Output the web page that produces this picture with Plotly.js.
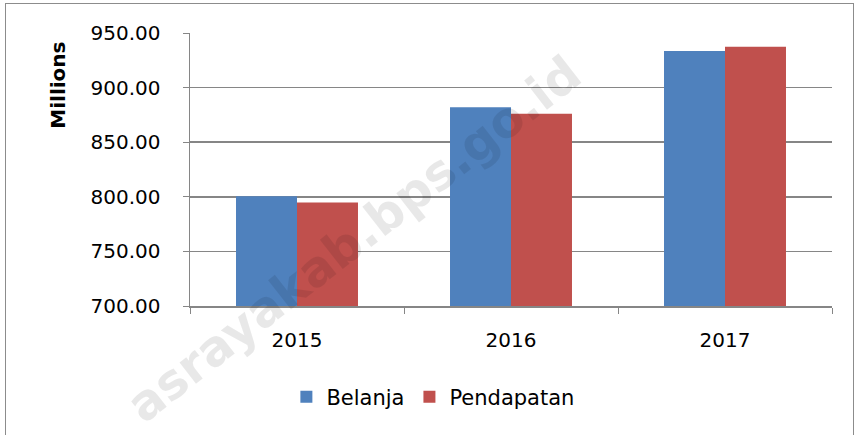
<!DOCTYPE html>
<html>
<head>
<meta charset="utf-8">
<script src="https://cdn.plot.ly/plotly-3.0.1.min.js"></script>
<style>
html,body{margin:0;padding:0;background:#fff;}
#wrap{position:relative;width:860px;height:435px;overflow:hidden;}
#chart{position:absolute;left:0;top:0;width:860px;height:435px;}
#frame{position:absolute;left:5px;top:3px;width:847px;height:440px;border:1px solid #8c8c8c;pointer-events:none;}
</style>
</head>
<body>
<div id="wrap"><div id="chart"></div><div id="frame"></div></div>
<script>
const years = ['2015', '2016', '2017'];
const belanja = [800.5, 882.0, 933.5];
const pendapatan = [794.7, 876.0, 937.3];
const seriesNames = ['Belanja', 'Pendapatan'];
const yTicks = [700, 750, 800, 850, 900, 950];
const yTickText = ['700.00', '750.00', '800.00', '850.00', '900.00', '950.00'];

const font = 'DejaVu Sans, sans-serif';
const traces = [
  {type:'bar', name:seriesNames[0], x:years, y:belanja, marker:{color:'#4f81bd'}},
  {type:'bar', name:seriesNames[1], x:years, y:pendapatan, marker:{color:'#c0504d'}}
];
const layout = {
  width:860, height:435,
  margin:{l:190, r:28, t:33, b:129},
  paper_bgcolor:'rgba(0,0,0,0)', plot_bgcolor:'#fff',
  barmode:'group', bargap:0.43, bargroupgap:0,
  font:{family:font, size:20, color:'#000'},
  xaxis:{type:'category', tickson:'boundaries', ticks:'outside', ticklen:6, tickcolor:'#868686',
         showline:true, linecolor:'#868686', linewidth:1.5, showgrid:false,
         tickfont:{size:20}, ticklabelstandoff:15},
  yaxis:{range:[700,950], tickvals:yTicks, ticktext:yTickText, ticks:'outside', ticklen:6,
         tickcolor:'#868686', showline:true, linecolor:'#868686', linewidth:1.5,
         gridcolor:'#868686', gridwidth:1.5, zeroline:false, tickfont:{size:20},
         ticklabelstandoff:18},
  showlegend:true,
  legend:{orientation:'h', xref:'container', yref:'container', x:0.333, y:0.087, xanchor:'left', yanchor:'middle',
          font:{size:21}, itemwidth:30, traceorder:'normal'},
  annotations:[
    {text:'<b>Millions</b>', xref:'paper', yref:'paper', x:-0.205, y:0.975, xanchor:'center', yanchor:'top',
     textangle:-90, showarrow:false, font:{size:20, family:font}},
    {text:'<b>asrayakab.bps.go.id</b>', xref:'paper', yref:'paper', x:0.255, y:0.245,
     xanchor:'center', yanchor:'middle', textangle:-38, showarrow:false,
     font:{size:49, family:font, color:'rgba(0,0,0,0.09)'}}
  ]
};
Plotly.newPlot('chart', traces, layout, {staticPlot:true});
</script>
</body>
</html>
